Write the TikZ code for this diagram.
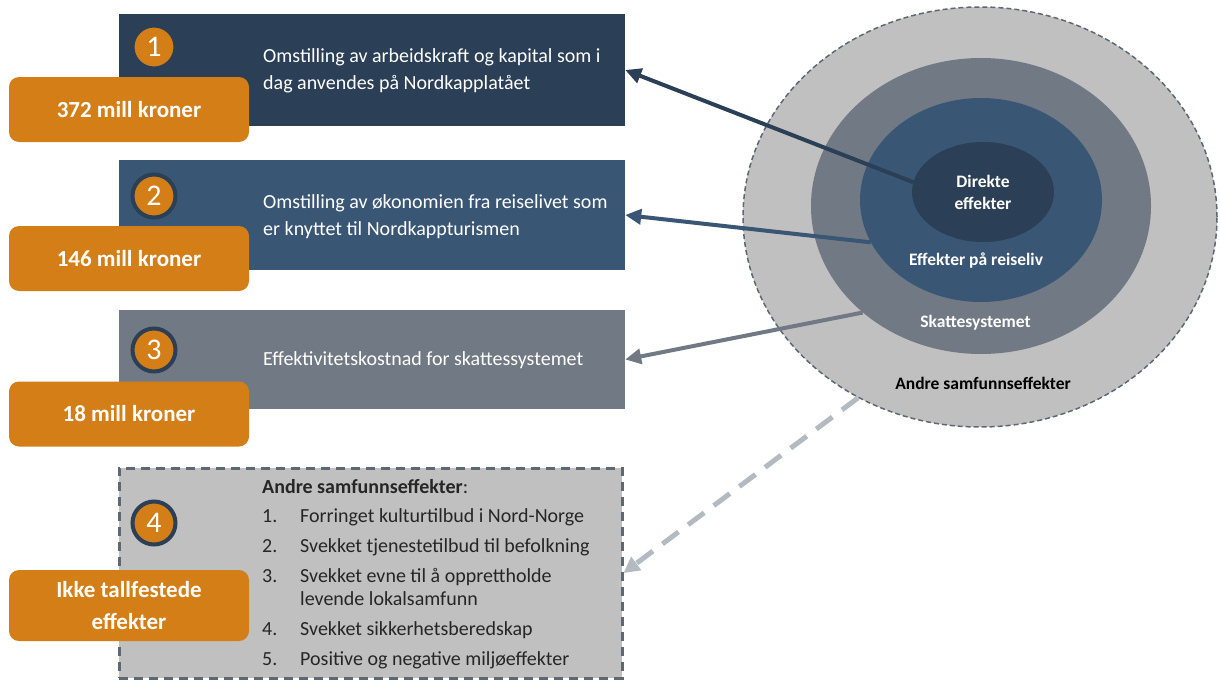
\documentclass[tikz,border=0pt]{standalone}
\usepackage{fontspec}
\setmainfont{Carlito}
\usetikzlibrary{shapes.geometric,arrows.meta}

\definecolor{morkbla}{HTML}{2B3F56}
\definecolor{mellombla}{HTML}{3A5675}
\definecolor{skifer}{HTML}{717A84}
\definecolor{lysgra}{HTML}{C0C0C0}
\definecolor{oransje}{HTML}{D47E18}
\definecolor{kantgra}{HTML}{5E6873}
\definecolor{pilgra}{HTML}{B3BAC1}

\tikzset{
	infoboks/.style={rectangle, inner sep=0pt, minimum width=506pt},
	belop/.style={rectangle, rounded corners=10pt, fill=oransje, text=white, align=center,
		font=\fontsize{23}{32}\selectfont\bfseries, minimum width=240pt, minimum height=65pt},
	nummer/.style={circle, fill=oransje, draw=morkbla, line width=4pt, minimum size=43pt,
		inner sep=0pt, text=white, font=\fontsize{30}{32}\selectfont},
	bokstekst/.style={anchor=west, inner sep=0pt, text=white, align=left,
		font=\fontsize{20}{27}\selectfont},
	ring/.style={ellipse, inner sep=0pt},
	ringtekst/.style={inner sep=0pt, text=white, align=center,
		font=\fontsize{17.5}{22}\selectfont\bfseries},
	effektpil/.style={line width=4pt, -{Triangle[length=16pt,width=15pt]}}
}

\begin{document}
\begin{tikzpicture}[x=1pt,y=-1pt]
	
	\useasboundingbox (0,0) rectangle (1220,680);
	
	\node[infoboks, fill=morkbla, minimum height=112pt] (boks1) at (372,70) {};
	\node[infoboks, fill=mellombla, minimum height=110pt] (boks2) at (372,215) {};
	\node[infoboks, fill=skifer, minimum height=99pt] (boks3) at (372,359.5) {};
	\node[infoboks, fill=lysgra, draw=kantgra, line width=3pt, dash pattern=on 9pt off 6pt,
		minimum width=503pt, minimum height=210pt] (boks4) at (370.5,573) {};
	
	\node[nummer] (nr1) at (154,47) {1};
	\node[nummer] (nr2) at (154,196) {2};
	\node[nummer] (nr3) at (154,350) {3};
	\node[nummer] (nr4) at (154,523) {4};
	
	\node[belop] (belop1) at (129,109.5) {372 mill kroner};
	\node[belop] (belop2) at (129,258.5) {146 mill kroner};
	\node[belop] (belop3) at (129,414) {18 mill kroner};
	\node[belop, minimum height=71pt] (belop4) at (129,605.5) {Ikke tallfestede\\effekter};
	
	\node[bokstekst] (tekst1) at (263,70.5)
		{Omstilling av arbeidskraft og kapital som i\\dag anvendes på Nordkapplatået};
	\node[bokstekst] (tekst2) at (263,216.5)
		{Omstilling av økonomien fra reiselivet som\\er knyttet til Nordkappturismen};
	\node[bokstekst] (tekst3) at (263,360)
		{Effektivitetskostnad for skattessystemet};
	
	\node[anchor=north west, inner sep=0pt, text=black!85, font=\fontsize{20}{23}\selectfont]
		(liste) at (262,477) {%
		\begin{tabular}{@{}p{38pt}@{}p{290pt}@{}}
			\multicolumn{2}{@{}l@{}}{\textbf{Andre samfunnseffekter}:}\\[6pt]
			1. & Forringet kulturtilbud i Nord-Norge\\[7pt]
			2. & Svekket tjenestetilbud til befolkning\\[7pt]
			3. & Svekket evne til å opprettholde\newline levende lokalsamfunn\\[7pt]
			4. & Svekket sikkerhetsberedskap\\[7pt]
			5. & Positive og negative miljøeffekter
		\end{tabular}};
	
	\node[ring, fill=lysgra, draw=kantgra, line width=1.5pt, dash pattern=on 5pt off 3pt,
		minimum width=474pt, minimum height=420pt] (andre) at (980,217) {};
	\node[ring, fill=skifer, minimum width=340pt, minimum height=296pt] (skatt) at (981,206) {};
	\node[ring, fill=mellombla, minimum width=242pt, minimum height=204pt] (reiseliv) at (981,200) {};
	\node[ring, fill=morkbla, minimum width=142pt, minimum height=100pt,
		text=white, align=center, font=\fontsize{17.5}{22}\selectfont\bfseries]
		(direkte) at (983,192) {Direkte\\effekter};
	
	\node[ringtekst] (reiselivtekst) at (976,261) {Effekter på reiseliv};
	\node[ringtekst] (skatttekst) at (975.5,323) {Skattesystemet};
	\node[ringtekst, text=black] (andretekst) at (983,383) {Andre samfunnseffekter};
	
	\draw[effektpil, morkbla] (direkte.172) -- (boks1.east);
	\draw[effektpil, mellombla] (reiseliv.201) -- (boks2.east);
	\draw[effektpil, skifer] (skatt.222) -- (boks3.east);
	\draw[pilgra, line width=5pt, dash pattern=on 20pt off 12pt,
		-{Triangle[length=16pt,width=16pt]}] (andre.236) -- (boks4.east);
	
\end{tikzpicture}
\end{document}
